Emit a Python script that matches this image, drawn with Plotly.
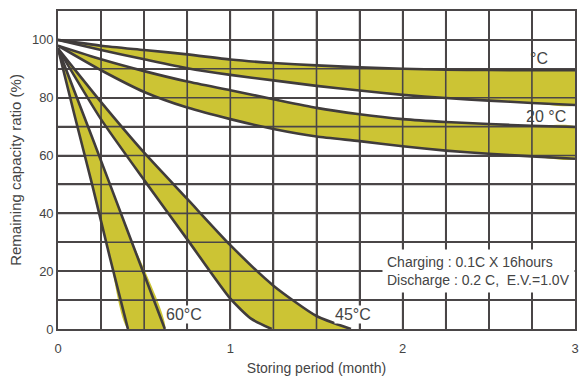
import plotly.graph_objects as go

# storing period (month) and remaining capacity (%)
b1_x = [0, 0.25, 0.5, 0.75, 1.0, 1.25, 1.5, 1.75, 2.0, 2.25, 2.5, 2.75, 3.0]
b1_hi = [100, 98, 96.5, 95.0, 93.2, 92.0, 91.2, 90.5, 90.0, 89.7, 89.6, 89.5, 89.5]
b1_lo = [100, 96.5, 93.3, 90.2, 87.9, 86.0, 84.1, 82.5, 81.0, 79.9, 79.0, 78.2, 77.5]

b2_x = [0, 0.25, 0.5, 0.75, 1.0, 1.25, 1.5, 1.75, 2.0, 2.25, 2.5, 2.75, 3.0]
b2_hi = [98, 93.3, 89.2, 85.6, 82.6, 79.5, 76.5, 74.3, 72.6, 71.6, 70.9, 70.3, 69.9]
b2_lo = [98, 89.5, 82.0, 76.6, 72.6, 69.2, 66.6, 65.0, 63.2, 61.7, 60.6, 59.7, 58.9]

b45_hi_x = [0, 0.25, 0.5, 0.75, 1.0, 1.25, 1.5, 1.7]
b45_hi = [97, 78.5, 61, 45, 29, 15, 4.5, 0]
b45_lo_x = [0, 0.25, 0.5, 0.75, 1.0, 1.12, 1.24]
b45_lo = [97, 72.5, 51.5, 31, 10.5, 3.6, 0]

b60_hi_x = [0, 0.2, 0.4, 0.62]
b60_hi = [97, 66, 34.5, 0]
b60_lo_x = [0, 0.1, 0.2, 0.3, 0.406]
b60_lo = [97, 73, 49.5, 25, 0]

band_labels = ["°C", "20 °C", "45°C", "60°C"]

fill = "#ccc434"
ink = "#403c3c"
grid = "#4a4647"
txt = "#444444"
fam = "Liberation Sans, Arial, sans-serif"

fig = go.Figure()

bands = [
    (b1_x, b1_hi, b1_x, b1_lo),
    (b2_x, b2_hi, b2_x, b2_lo),
    (b45_hi_x, b45_hi, b45_lo_x, b45_lo),
    (b60_hi_x, b60_hi, b60_lo_x, b60_lo),
]

# yellow bands on the base axes
for hx, hy, lx, ly in bands:
    fig.add_trace(go.Scatter(
        x=list(hx) + list(lx)[::-1],
        y=list(hy) + list(ly)[::-1],
        fill="toself", fillcolor=fill, mode="lines",
        line=dict(width=0, shape="spline", smoothing=0.6),
        hoverinfo="skip", showlegend=False))

# grid and curves on overlaid axes so they sit above the fill
gx, gy = [], []
for i in range(1, 12):
    v = i * 0.25
    gx += [v, v, None]
    gy += [0.0, 110.0, None]
for i in range(1, 11):
    v = i * 10.0
    gx += [0.0, 3.0, None]
    gy += [v, v, None]
fig.add_trace(go.Scatter(x=gx, y=gy, mode="lines", xaxis="x2", yaxis="y2",
                         line=dict(color=grid, width=1.6),
                         hoverinfo="skip", showlegend=False))

for hx, hy, lx, ly in bands:
    for xs, ys in [(hx, hy), (lx, ly)]:
        fig.add_trace(go.Scatter(
            x=xs, y=ys, mode="lines", xaxis="x2", yaxis="y2",
            line=dict(color=ink, width=2.6, shape="spline", smoothing=0.6),
            hoverinfo="skip", showlegend=False))

lab = dict(family=fam, size=16, color=txt)
fig.add_annotation(x=2.79, y=93.5, text=band_labels[0], showarrow=False, font=lab)
fig.add_annotation(x=2.83, y=73.5, text=band_labels[1], showarrow=False, font=lab)
fig.add_annotation(x=1.71, y=5, text=band_labels[2], showarrow=False, font=lab,
                   bgcolor="white", borderpad=0)
fig.add_annotation(x=0.73, y=5, text=band_labels[3], showarrow=False, font=lab,
                   bgcolor="white", borderpad=0)
fig.add_annotation(x=2.44, y=20, showarrow=False, align="left",
                   text="Charging : 0.1C X 16hours<br>Discharge : 0.2 C,  E.V.=1.0V",
                   font=dict(family=fam, size=14, color=txt), bgcolor="white",
                   borderpad=4)

tick = dict(family=fam, size=13, color=txt)
fig.update_layout(
    width=582, height=381, margin=dict(l=58, r=3, t=11, b=52),
    plot_bgcolor="white", paper_bgcolor="white",
    xaxis=dict(range=[0, 3], tickvals=[0, 1, 2, 3], showgrid=True,
               gridcolor=grid, gridwidth=1.6,
               minor=dict(dtick=0.25, showgrid=True, gridcolor=grid, gridwidth=1.6),
               zeroline=False, showline=True, linecolor=grid, linewidth=1.6,
               mirror=True, ticks="", ticklen=0, ticklabelstandoff=7,
               ticklabeloverflow="allow", tickfont=tick,
               title=dict(text="Storing period (month)", standoff=8,
                          font=dict(family=fam, size=14, color=txt))),
    yaxis=dict(range=[0, 110], tickvals=[0, 20, 40, 60, 80, 100], showgrid=True,
               gridcolor=grid, gridwidth=1.6,
               minor=dict(dtick=10, showgrid=True, gridcolor=grid, gridwidth=1.6),
               zeroline=False, showline=True, linecolor=grid, linewidth=1.6,
               mirror=True, ticks="", ticklen=0, ticklabelstandoff=0, tickfont=tick,
               title=dict(text="Remaining capacity ratio (%)", standoff=7,
                          font=dict(family=fam, size=15, color=txt))),
    xaxis2=dict(overlaying="x", range=[0, 3], visible=False),
    yaxis2=dict(overlaying="y", range=[0, 110], visible=False),
)

fig.write_html("out.html", config={"displayModeBar": False},
               post_script="document.body.style.margin='0';")
